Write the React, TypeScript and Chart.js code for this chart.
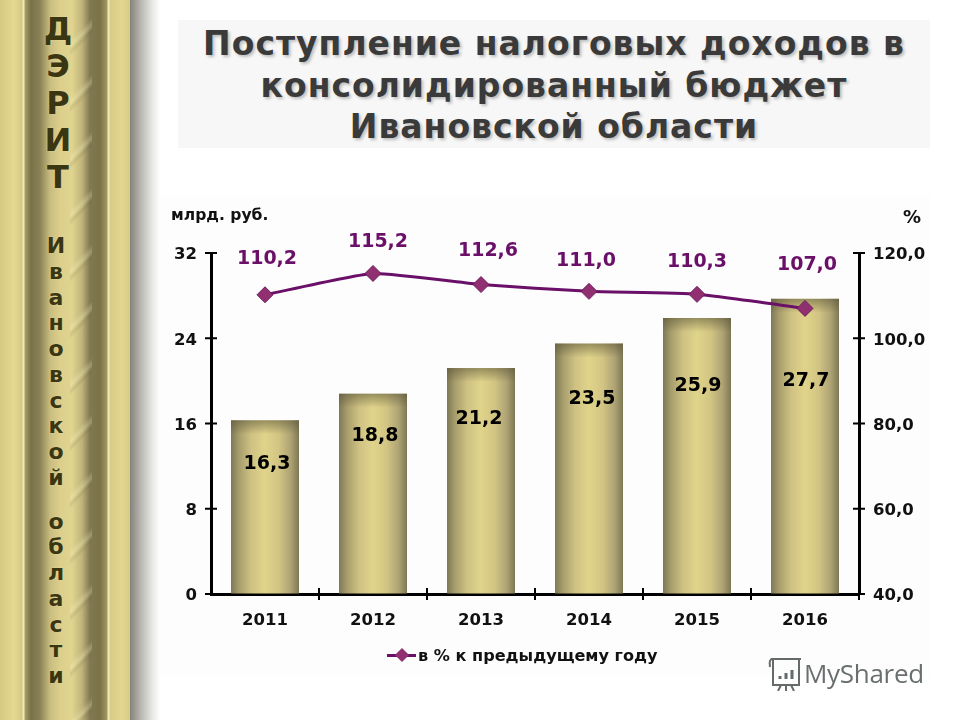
import { useEffect, useRef } from 'react'
import { Chart, registerables } from 'chart.js'

Chart.register(...registerables)

const YEARS = ['2011', '2012', '2013', '2014', '2015', '2016']
const REVENUE = [16.3, 18.8, 21.2, 23.5, 25.9, 27.7]
const GROWTH = [110.2, 115.2, 112.6, 111.0, 110.3, 107.0]
const LEFT_TICKS = [0, 8, 16, 24, 32]
const RIGHT_TICKS = [40, 60, 80, 100, 120]

const TITLE_LINES = [
  'Поступление налоговых доходов в',
  'консолидированный бюджет',
  'Ивановской области',
]
const STRIP_TOP = ['Д', 'Э', 'Р', 'И', 'Т']
const STRIP_BOTTOM = 'Ивановской области'.split('')

// hand placed label nudges [dx, dy] relative to the mark
const GROWTH_NUDGE = [[2, -37], [5, -32], [7, -34], [-3, -31], [0, -33], [2, -44]]
const REVENUE_NUDGE = [[2, 43], [2, 41], [-2, 50], [3, 54], [1, 67], [1, 81]]

const FONT = '"DejaVu Sans", sans-serif'
const PURPLE = '#6a1068'
const TICK_FONT = { family: FONT, size: 16.5, weight: 'bold' }

const fmt = (v: number) => v.toFixed(1).replace('.', ',')

const barShade = {
  id: 'barShade',
  afterDatasetDraw(chart: any, args: any) {
    if (args.index !== 0) return
    const { ctx } = chart
    chart.getDatasetMeta(0).data.forEach((b: any) => {
      const g = ctx.createLinearGradient(0, b.y, 0, b.y + 14)
      g.addColorStop(0, 'rgba(90,84,55,.55)')
      g.addColorStop(1, 'rgba(90,84,55,0)')
      ctx.fillStyle = g
      ctx.fillRect(b.x - b.width / 2, b.y, b.width, 14)
    })
  },
}

const crossTicks = {
  id: 'crossTicks',
  afterDatasetsDraw(chart: any) {
    const { ctx, scales } = chart
    const { x, y, y1 } = scales
    ctx.save()
    ctx.strokeStyle = '#000'
    ctx.lineWidth = 2
    ctx.beginPath()
    LEFT_TICKS.forEach((v) => {
      const p = y.getPixelForValue(v)
      ctx.moveTo(x.left - 6, p)
      ctx.lineTo(x.left + 6, p)
    })
    RIGHT_TICKS.forEach((v) => {
      const p = y1.getPixelForValue(v)
      ctx.moveTo(x.right - 6, p)
      ctx.lineTo(x.right + 6, p)
    })
    const step = (x.right - x.left) / YEARS.length
    YEARS.forEach((_, i) => {
      const p = x.getPixelForValue(i) + step / 2
      ctx.moveTo(p, y.bottom - 6)
      ctx.lineTo(p, y.bottom + 6)
    })
    ctx.stroke()
    ctx.restore()
  },
}

const valueLabels = {
  id: 'valueLabels',
  afterDatasetsDraw(chart: any) {
    const { ctx } = chart
    const bars = chart.getDatasetMeta(0).data
    const points = chart.getDatasetMeta(1).data
    ctx.save()
    ctx.textAlign = 'center'
    ctx.textBaseline = 'middle'
    ctx.font = `bold 19px ${FONT}`
    ctx.fillStyle = '#000'
    bars.forEach((b: any, i: number) => {
      ctx.fillText(fmt(REVENUE[i]), b.x + REVENUE_NUDGE[i][0], b.y + REVENUE_NUDGE[i][1] + 1)
    })
    ctx.fillStyle = PURPLE
    points.forEach((p: any, i: number) => {
      ctx.fillText(fmt(GROWTH[i]), p.x + GROWTH_NUDGE[i][0], p.y + GROWTH_NUDGE[i][1] + 1)
    })
    ctx.restore()
  },
}

function barFill(c: any) {
  const { chart, dataIndex } = c
  const x = chart.scales?.x
  if (!x || !chart.chartArea) return '#c9bd7f'
  const mid = x.getPixelForValue(dataIndex)
  const g = chart.ctx.createLinearGradient(mid - 34, 0, mid + 34, 0)
  g.addColorStop(0, '#7e7854')
  g.addColorStop(0.12, '#a89e6c')
  g.addColorStop(0.3, '#cfc283')
  g.addColorStop(0.5, '#e0d48b')
  g.addColorStop(0.7, '#d2c583')
  g.addColorStop(0.88, '#ada274')
  g.addColorStop(1, '#7e7854')
  return g
}

function BudgetChart() {
  const ref = useRef<HTMLCanvasElement>(null)

  useEffect(() => {
    if (!ref.current) return
    const chart = new Chart(ref.current, {
      type: 'bar',
      plugins: [barShade, crossTicks, valueLabels],
      data: {
        labels: YEARS,
        datasets: [
          {
            type: 'bar',
            data: REVENUE,
            yAxisID: 'y',
            order: 2,
            backgroundColor: barFill,
            barPercentage: 68 / 108,
            categoryPercentage: 1,
          },
          {
            type: 'line',
            data: GROWTH,
            yAxisID: 'y1',
            order: 1,
            borderColor: PURPLE,
            borderWidth: 3,
            tension: 0.15,
            pointStyle: 'rectRot',
            pointRadius: 8,
            pointBackgroundColor: '#913070',
            pointBorderColor: '#6e1a60',
            pointBorderWidth: 1,
          },
        ],
      } as any,
      options: {
        responsive: false,
        animation: false,
        layout: { padding: { top: 253 } },
        plugins: { legend: { display: false }, tooltip: { enabled: false } },
        scales: {
          x: {
            afterFit: (s: any) => { s.height = 126 },
            border: { color: '#000', width: 3 },
            grid: { display: false },
            ticks: { color: '#111', font: TICK_FONT, padding: 9, maxRotation: 0 },
          },
          y: {
            position: 'left',
            min: 0,
            max: 32,
            afterFit: (s: any) => { s.width = 211 },
            border: { color: '#000', width: 3 },
            grid: { drawOnChartArea: false, drawTicks: false },
            ticks: { stepSize: 8, color: '#111', font: TICK_FONT, padding: 14, labelOffset: 2 },
          },
          y1: {
            position: 'right',
            min: 40,
            max: 120,
            afterFit: (s: any) => { s.width = 101 },
            border: { color: '#000', width: 3 },
            grid: { drawOnChartArea: false, drawTicks: false },
            ticks: { stepSize: 20, color: '#111', font: TICK_FONT, padding: 14, labelOffset: 2, callback: (v: any) => fmt(Number(v)) },
          },
        },
      } as any,
    })
    return () => chart.destroy()
  }, [])

  return <canvas ref={ref} width={960} height={720} style={{ position: 'absolute', left: 0, top: 0 }} />
}

const outline = '0 0 2px rgba(240,230,168,.6)'

export default function App() {
  return (
    <div style={{ position: 'fixed', left: 0, top: 0, width: 960, height: 720, overflow: 'hidden', background: '#fff', fontFamily: FONT }}>
      <div style={{ position: 'absolute', left: 178, top: 20, width: 752, height: 128, background: '#f6f7f6' }} />
      <div style={{ position: 'absolute', left: 160, top: 196, width: 770, height: 480, background: '#fefdfe' }} />

      <div style={{ position: 'absolute', left: 0, top: 0, width: 130, height: 720, background: 'linear-gradient(90deg,#d6c880 0,#e4d892 14px,#d4c884 22px,#f0e8b8 23px,#f0e8b8 24px,#a89e68 25px,#787048 31px,#8a8256 40px,#c8bc80 50px,#dccf8c 60px,#e0d48f 72px,#c0b47a 82px,#807850 90px,#7a7248 100px,#a09660 107px,#f0e8b8 108px,#f0e8b8 109px,#d8cb86 110px,#e2d690 122px,#d6ca86 130px)' }} />
      <div style={{ position: 'absolute', left: 70, top: 0, width: 22, height: 720, background: 'repeating-linear-gradient(135deg, rgba(255,250,200,0) 0 28px, rgba(255,250,200,.26) 33px, rgba(90,84,50,.12) 37px, rgba(255,250,200,0) 40px)' }} />
      <div style={{ position: 'absolute', left: 130, top: 0, width: 30, height: 720, background: 'linear-gradient(90deg,#84827a 0,#b4b3ae 10px,#e6e6e4 22px,#fff 30px)' }} />

      <div style={{ position: 'absolute', left: 28, top: 11, width: 60, textAlign: 'center', fontWeight: 'bold', fontSize: 32, lineHeight: '37px', color: '#3a3612', textShadow: outline }}>
        {STRIP_TOP.map((c, i) => <div key={i}>{c}</div>)}
      </div>
      <div style={{ position: 'absolute', left: 28, top: 233, width: 56, textAlign: 'center', fontWeight: 'bold', fontSize: 22, lineHeight: '25.75px', height: 464, color: '#3a3612', textShadow: outline }}>
        {STRIP_BOTTOM.map((c, i) => <div key={i} style={{ height: c === ' ' ? 18 : 25.75 }}>{c}</div>)}
      </div>

      <div style={{ position: 'absolute', left: 178, top: 23, width: 752, textAlign: 'center', fontWeight: 'bold', fontSize: 33, letterSpacing: 1, lineHeight: '41.5px', color: '#3a3a3a', textShadow: '2px 2px 3px #bdbdbd', whiteSpace: 'nowrap' }}>
        {TITLE_LINES.map((t) => <div key={t}>{t}</div>)}
      </div>

      <BudgetChart />

      <div style={{ position: 'absolute', left: 171, top: 206, fontSize: 15.6, fontWeight: 'bold', color: '#111' }}>млрд. руб.</div>
      <div style={{ position: 'absolute', left: 903, top: 206, fontSize: 18, fontWeight: 'bold', color: '#111' }}>%</div>

      <div style={{ position: 'absolute', left: 387, top: 645, height: 20, display: 'flex', alignItems: 'center' }}>
        <span style={{ position: 'relative', width: 29, height: 3, background: PURPLE, marginRight: 2 }}>
          <span style={{ position: 'absolute', left: 10, top: -3.5, width: 10, height: 10, background: '#913070', transform: 'rotate(45deg)' }} />
        </span>
        <span style={{ fontSize: 16.1, fontWeight: 'bold', color: '#111', whiteSpace: 'nowrap' }}>в % к предыдущему году</span>
      </div>

      <div style={{ position: 'absolute', left: 767, top: 655, display: 'flex', alignItems: 'center', opacity: 0.85 }}>
        <svg width="36" height="36" viewBox="0 0 36 36" fill="none" stroke="#4a5050" strokeWidth="2">
          <path d="M4 4h30M6 4v26h26V4M6 4c-3 0-4 2-3 8" />
          <path d="M14 30l-3 6M19 30v6M24 30l3 6" />
          <path d="M13 24v-3M19 24v-6M25 24v-9" strokeWidth="3" />
        </svg>
        <span style={{ fontFamily: '"Open Sans", sans-serif', fontSize: 26, color: '#4f5555', marginLeft: 1, letterSpacing: -0.3 }}>MyShared</span>
      </div>
    </div>
  )
}
